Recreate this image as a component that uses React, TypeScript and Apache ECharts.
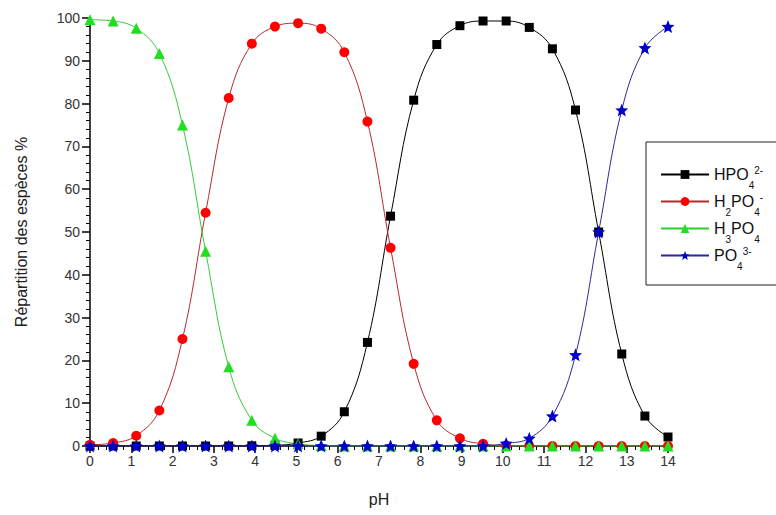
import React, { useEffect, useRef } from "react";
import * as echarts from "echarts";

const pH = [0, 0.56, 1.12, 1.68, 2.24, 2.8, 3.36, 3.92, 4.48, 5.04, 5.6, 6.16, 6.72, 7.28, 7.84, 8.4, 8.96, 9.52, 10.08, 10.64, 11.2, 11.76, 12.32, 12.88, 13.44, 14];

const hpo4 = [0, 0, 0, 0, 0, 0, 0, 0.05, 0.15, 0.7, 2.3, 8, 24.2, 53.7, 80.8, 93.8, 98.2, 99.3, 99.3, 97.8, 92.8, 78.5, 50, 21.5, 7, 2.1];
const h2po4 = [0.3, 0.7, 2.4, 8.3, 25, 54.5, 81.3, 94, 98, 98.8, 97.5, 92, 75.8, 46.3, 19.2, 6, 1.8, 0.5, 0.1, 0, 0, 0, 0, 0, 0, 0];
const h3po4 = [99.6, 99.3, 97.6, 91.7, 75, 45.5, 18.5, 6, 1.8, 0.5, 0.1, 0, 0, 0, 0, 0, 0, 0, 0, 0, 0, 0, 0, 0, 0, 0];
const po4 = [0, 0, 0, 0, 0, 0, 0, 0, 0, 0, 0, 0, 0, 0, 0, 0, 0, 0, 0.6, 1.8, 7, 21.3, 50, 78.5, 93, 98];

const yTicks = [0, 10, 20, 30, 40, 50, 60, 70, 80, 90, 100];
const xTicks = [0, 1, 2, 3, 4, 5, 6, 7, 8, 9, 10, 11, 12, 13, 14];

const seriesNames = ["HPO4 2-", "H2PO4 -", "H3PO4", "PO4 3-"];
const legendLabels: Record<string, string> = {
  "HPO4 2-": "{m|HPO}{sub|4}{sup|2-}",
  "H2PO4 -": "{m|H}{sub|2}{m|PO}{sub|4}{sup|-}",
  "H3PO4": "{m|H}{sub|3}{m|PO}{sub|4}",
  "PO4 3-": "{m|PO}{sub|4}{sup|3-}",
};

const star =
  "path://M50,0 L63,33 L98,35 L71,58 L80,93 L50,74 L20,93 L29,58 L2,35 L37,33 Z";

export default function App() {
  const ref = useRef<HTMLDivElement>(null);
  useEffect(() => {
    if (!ref.current) return;
    const chart = echarts.init(ref.current, undefined, { renderer: "svg" });
    const mk = (arr: number[]) => pH.map((x, i) => [x, arr[i]]);
    const font = "Liberation Sans, Arial, sans-serif";
    chart.setOption({
      animation: false,
      backgroundColor: "#ffffff",
      grid: { left: 90, right: 108, top: 18, bottom: 69, containLabel: false },
      xAxis: {
        type: "value",
        min: 0,
        max: 14,
        interval: 1,
        name: "pH",
        nameLocation: "middle",
        nameGap: 45,
        nameTextStyle: { fontSize: 16, color: "#222", fontFamily: font },
        axisLine: { show: true, lineStyle: { color: "#000", width: 1.5 } },
        axisTick: { show: true, length: 7, lineStyle: { color: "#000", width: 1.5 } },
        minorTick: { show: true, splitNumber: 5, length: 4, lineStyle: { color: "#000", width: 1 } },
        axisLabel: {
          fontSize: 14,
          color: "#333",
          fontFamily: font,
          margin: 8,
          formatter: (v: number) => (xTicks.includes(v) ? String(v) : ""),
        },
        splitLine: { show: false },
      },
      yAxis: {
        type: "value",
        min: 0,
        max: 100,
        interval: 10,
        name: "Répartition des espèces %",
        nameLocation: "middle",
        nameGap: 61,
        nameTextStyle: { fontSize: 16, color: "#222", fontFamily: font },
        axisLine: { show: true, lineStyle: { color: "#000", width: 1.5 } },
        axisTick: { show: true, length: 8, lineStyle: { color: "#000", width: 1.5 } },
        minorTick: { show: true, splitNumber: 5, length: 4, lineStyle: { color: "#000", width: 1 } },
        axisLabel: {
          fontSize: 14,
          color: "#333",
          fontFamily: font,
          margin: 10,
          formatter: (v: number) => (yTicks.includes(v) ? String(v) : ""),
        },
        splitLine: { show: false },
      },
      legend: {
        orient: "vertical",
        left: 646,
        top: 142,
        data: seriesNames,
        backgroundColor: "#fff",
        borderColor: "#222",
        borderWidth: 1,
        borderRadius: 0,
        padding: [19, 60, 14, 14],
        itemWidth: 48,
        itemHeight: 11,
        itemGap: -2,
        formatter: (name: string) => legendLabels[name],
        textStyle: {
          fontFamily: font,
          color: "#111",
          rich: {
            m: { fontSize: 16, lineHeight: 27, fontFamily: font, color: "#111" },
            sub: { fontSize: 10, lineHeight: 12, verticalAlign: "top", fontFamily: font, color: "#111", padding: [19, 0, 0, 0] },
            sup: { fontSize: 10, lineHeight: 8, verticalAlign: "top", fontFamily: font, color: "#111", padding: [4, 0, 0, 0] },
          },
        },
      },
      series: [
        {
          name: seriesNames[0],
          type: "line",
          data: mk(hpo4),
          smooth: 0.4,
          symbol: "rect",
          symbolSize: 9,
          itemStyle: { color: "#000" },
          lineStyle: { color: "#000", width: 1 },
        },
        {
          name: seriesNames[1],
          type: "line",
          data: mk(h2po4),
          smooth: 0.4,
          symbol: "circle",
          symbolSize: 10,
          itemStyle: { color: "#ff0000" },
          lineStyle: { color: "#b52a2a", width: 1 },
        },
        {
          name: seriesNames[2],
          type: "line",
          data: mk(h3po4),
          smooth: 0.4,
          symbol: "triangle",
          symbolSize: 11,
          itemStyle: { color: "#22dd22" },
          lineStyle: { color: "#33cc33", width: 1 },
        },
        {
          name: seriesNames[3],
          type: "line",
          data: mk(po4),
          smooth: 0.4,
          symbol: star,
          symbolSize: 13,
          itemStyle: { color: "#0000cc" },
          lineStyle: { color: "#2a2a99", width: 1 },
        },
      ],
    });
    return () => chart.dispose();
  }, []);
  return <div ref={ref} style={{ width: 776, height: 515, position: "absolute", left: 0, top: 0 }} />;
}
